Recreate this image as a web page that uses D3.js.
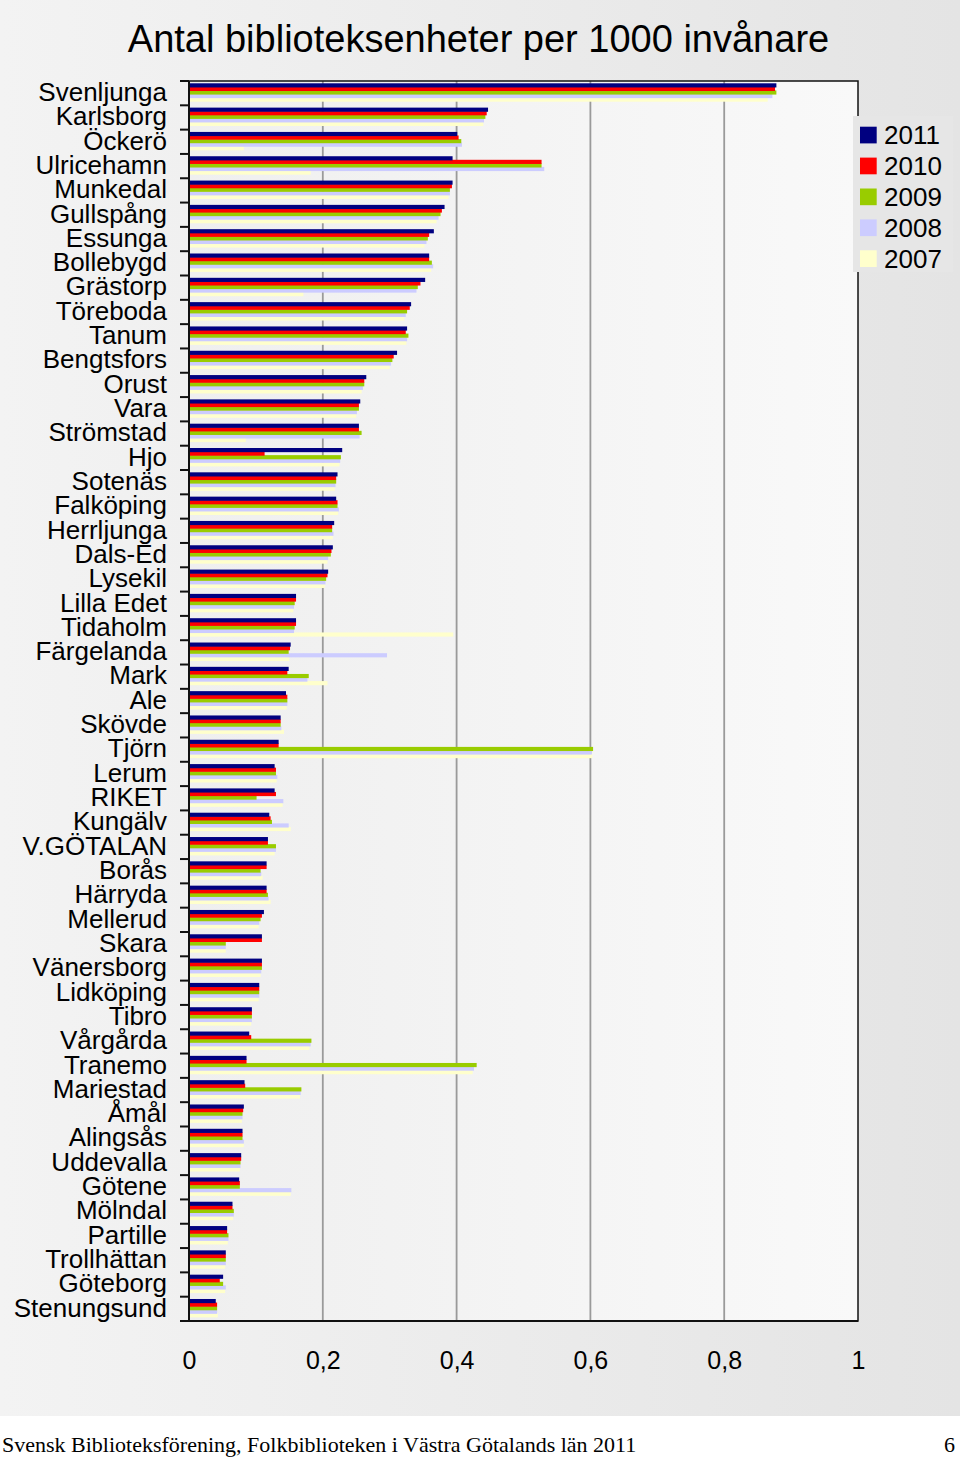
<!DOCTYPE html>
<html><head><meta charset="utf-8">
<script src="https://cdn.jsdelivr.net/npm/d3@7"></script>
<style>
html,body{margin:0;padding:0;background:#fff;}
svg{display:block;}
</style></head>
<body>
<script>
const categories = ["Svenljunga","Karlsborg","Öckerö","Ulricehamn","Munkedal","Gullspång","Essunga","Bollebygd","Grästorp","Töreboda","Tanum","Bengtsfors","Orust","Vara","Strömstad","Hjo","Sotenäs","Falköping","Herrljunga","Dals-Ed","Lysekil","Lilla Edet","Tidaholm","Färgelanda","Mark","Ale","Skövde","Tjörn","Lerum","RIKET","Kungälv","V.GÖTALAN","Borås","Härryda","Mellerud","Skara","Vänersborg","Lidköping","Tibro","Vårgårda","Tranemo","Mariestad","Åmål","Alingsås","Uddevalla","Götene","Mölndal","Partille","Trollhättan","Göteborg","Stenungsund"];
const seriesNames = ["2011","2010","2009","2008","2007"];
const v2011 = [0.878,0.447,0.401,0.394,0.394,0.382,0.366,0.359,0.353,0.332,0.326,0.311,0.265,0.256,0.254,0.229,0.222,0.220,0.217,0.215,0.208,0.160,0.160,0.152,0.149,0.145,0.137,0.134,0.128,0.128,0.120,0.118,0.116,0.116,0.112,0.109,0.109,0.105,0.094,0.090,0.086,0.083,0.082,0.080,0.078,0.075,0.065,0.057,0.055,0.051,0.040];
const v2010 = [0.876,0.445,0.403,0.527,0.393,0.378,0.359,0.359,0.346,0.330,0.324,0.306,0.262,0.254,0.254,0.113,0.220,0.222,0.214,0.213,0.207,0.160,0.160,0.151,0.147,0.147,0.137,0.134,0.130,0.130,0.122,0.118,0.116,0.116,0.109,0.109,0.109,0.105,0.094,0.093,0.086,0.084,0.081,0.080,0.078,0.076,0.065,0.057,0.055,0.046,0.042];
const v2009 = [0.878,0.443,0.407,0.527,0.390,0.376,0.357,0.363,0.342,0.326,0.328,0.304,0.262,0.254,0.258,0.227,0.220,0.222,0.214,0.212,0.205,0.158,0.158,0.149,0.179,0.147,0.137,0.604,0.130,0.101,0.124,0.130,0.107,0.118,0.107,0.055,0.109,0.105,0.094,0.183,0.430,0.168,0.080,0.080,0.077,0.076,0.067,0.059,0.055,0.051,0.042];
const v2008 = [0.872,0.441,0.408,0.531,0.390,0.373,0.355,0.365,0.340,0.324,0.326,0.302,0.260,0.251,0.255,0.226,0.219,0.224,0.216,0.208,0.204,0.157,0.157,0.296,0.177,0.147,0.138,0.602,0.132,0.141,0.149,0.130,0.108,0.119,0.105,0.055,0.108,0.105,0.094,0.182,0.426,0.167,0.080,0.082,0.077,0.153,0.067,0.059,0.055,0.055,0.042];
const v2007 = [0.865,0.440,0.082,0.182,0.388,0.370,0.352,0.362,0.171,0.322,0.325,0.300,0.258,0.250,0.085,0.225,0.218,0.223,0.215,0.207,0.203,0.156,0.395,0.150,0.207,0.146,0.142,0.603,0.131,0.140,0.152,0.128,0.110,0.122,0.104,0.055,0.107,0.104,0.093,0.180,0.424,0.166,0.079,0.082,0.076,0.152,0.066,0.058,0.054,0.054,0.043];
const xTicks = [0,0.2,0.4,0.6,0.8,1];
const xTickLabels = ["0","0,2","0,4","0,6","0,8","1"];
const colors = ["#000080","#ff0000","#99cc00","#ccccff","#ffffcc"];
const title = "Antal biblioteksenheter per 1000 invånare";
const footerLeft = "Svensk Biblioteksförening, Folkbiblioteken i Västra Götalands län 2011";
const footerRight = "6";

const seriesValues = [v2011,v2010,v2009,v2008,v2007];
const W = 960, H = 1460;
const svg = d3.select("body").append("svg").attr("width",W).attr("height",H);
const defs = svg.append("defs");
const gBg = defs.append("linearGradient").attr("id","bg").attr("x1","0").attr("x2","1").attr("y1","0").attr("y2","0");
gBg.append("stop").attr("offset","0").attr("stop-color","#f3f3f3");
gBg.append("stop").attr("offset","1").attr("stop-color","#e4e4e4");
const gPl = defs.append("linearGradient").attr("id","pl").attr("x1","0").attr("x2","1").attr("y1","0").attr("y2","0");
gPl.append("stop").attr("offset","0").attr("stop-color","#efefef");
gPl.append("stop").attr("offset","1").attr("stop-color","#f9f9f9");

svg.append("rect").attr("x",0).attr("y",0).attr("width",W).attr("height",1416).attr("fill","url(#bg)");
svg.append("rect").attr("x",0).attr("y",1416).attr("width",W).attr("height",H-1416).attr("fill","#ffffff");

const m = {left:189, right:858, top:81, bottom:1321};
const x = d3.scaleLinear().domain([0,1]).range([m.left,m.right]);
const y = d3.scaleBand().domain(categories).range([m.top,m.bottom]).paddingInner(0).paddingOuter(0);
const yIn = d3.scaleBand().domain(seriesNames).range([2.6, 20.4]);

svg.append("rect").attr("x",m.left).attr("y",m.top).attr("width",m.right-m.left).attr("height",m.bottom-m.top).attr("fill","url(#pl)");

// gridlines
svg.append("g").selectAll("line").data(xTicks.filter(t=>t>0&&t<1)).join("line")
  .attr("x1",d=>x(d)).attr("x2",d=>x(d)).attr("y1",m.top).attr("y2",m.bottom)
  .attr("stroke","#9a9a9a").attr("stroke-width",1.8);

// bars
const barsG = svg.append("g");
seriesNames.slice().reverse().forEach((s)=>{
  const si = seriesNames.indexOf(s);
  barsG.append("g").selectAll("rect").data(categories).join("rect")
    .attr("x",x(0)).attr("y",(c)=>y(c)+yIn(s)-0.3)
    .attr("width",(c,i)=>x(seriesValues[si][i])-x(0))
    .attr("height",yIn.bandwidth()+0.6)
    .attr("fill",colors[si]);
});

// plot border
svg.append("rect").attr("x",m.left).attr("y",m.top).attr("width",m.right-m.left).attr("height",m.bottom-m.top)
  .attr("fill","none").attr("stroke","#111").attr("stroke-width",1.5);
svg.append("line").attr("x1",m.left).attr("x2",m.left).attr("y1",m.top).attr("y2",m.bottom).attr("stroke","#111").attr("stroke-width",2);
svg.append("line").attr("x1",m.left).attr("x2",m.right).attr("y1",m.bottom).attr("y2",m.bottom).attr("stroke","#111").attr("stroke-width",2);

// category axis
const yAxis = d3.axisLeft(y).tickSize(0).tickPadding(22);
const ya = svg.append("g").attr("transform",`translate(${m.left},0)`).call(yAxis);
ya.select(".domain").remove();
ya.selectAll("text").attr("font-family","Liberation Sans, Arial, sans-serif").attr("font-size","26px").attr("fill","#000").attr("dy","0.3em");
// boundary tick marks
svg.append("g").selectAll("line").data(categories.concat(["__end"])).join("line")
  .attr("x1",m.left-9).attr("x2",m.left)
  .attr("y1",(c,i)=> i<categories.length ? y(c) : m.bottom)
  .attr("y2",(c,i)=> i<categories.length ? y(c) : m.bottom)
  .attr("stroke","#111").attr("stroke-width",2);

// x axis labels
const xAxis = d3.axisBottom(x).tickValues(xTicks).tickFormat((d,i)=>xTickLabels[i]).tickSize(0).tickPadding(30);
const xa = svg.append("g").attr("transform",`translate(0,${m.bottom})`).call(xAxis);
xa.select(".domain").remove();
xa.selectAll("text").attr("font-family","Liberation Sans, Arial, sans-serif").attr("font-size","25px").attr("fill","#000");

// title
svg.append("text").attr("x",478.5).attr("y",52).attr("text-anchor","middle")
  .attr("font-family","Liberation Sans, Arial, sans-serif").attr("font-size","38px").attr("fill","#000").text(title);

// legend
const lg = svg.append("g");
lg.append("rect").attr("x",853).attr("y",116).attr("width",100).attr("height",156).attr("fill","#e6e6e6");
seriesNames.forEach((s,i)=>{
  const cy = 135 + i*30.9;
  lg.append("rect").attr("x",860).attr("y",cy-8.3).attr("width",16.7).attr("height",16.7).attr("fill",colors[i]);
  lg.append("text").attr("x",884).attr("y",cy+9.3).attr("font-family","Liberation Sans, Arial, sans-serif")
    .attr("font-size","26px").attr("fill","#000").text(s);
});

// footer
svg.append("text").attr("x",2).attr("y",1452).attr("font-family","Liberation Serif, Times New Roman, serif")
  .attr("font-size","22px").attr("fill","#000").text(footerLeft);
svg.append("text").attr("x",955).attr("y",1452).attr("text-anchor","end").attr("font-family","Liberation Serif, Times New Roman, serif")
  .attr("font-size","22px").attr("fill","#000").text(footerRight);
</script>
</body></html>
